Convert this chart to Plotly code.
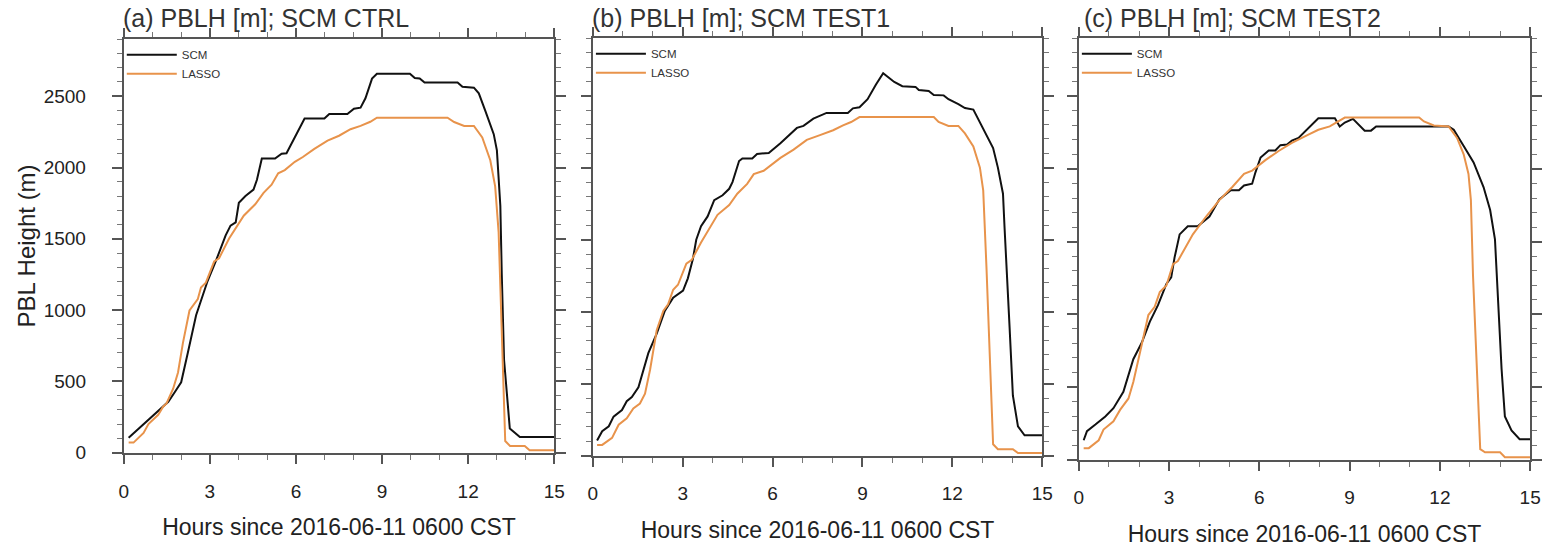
import plotly.graph_objects as go

W, H = 1557, 549

# ---------------- data (hours since 2016-06-11 0600 CST, PBLH in m) ----------------
ctrl_scm_t = [0.17, 1.55, 1.78, 2.0, 2.23, 2.52, 2.92, 3.21, 3.55, 3.72, 3.9, 4.01, 4.24, 4.52, 4.64, 4.81, 5.27, 5.5,
              5.67, 5.84, 6.3, 6.99, 7.16, 7.79, 8.02, 8.25, 8.42, 8.65, 8.82, 9.97, 10.14, 10.31, 10.48, 11.63, 11.8,
              12.2, 12.37, 12.6, 12.89, 13.0, 13.12, 13.17, 13.25, 13.45, 13.8, 15.0]
ctrl_scm_v = [105, 357, 426, 494, 700, 964, 1204, 1345, 1525, 1593, 1616, 1753, 1800, 1845, 1914, 2063, 2063, 2097,
              2100, 2166, 2344, 2344, 2376, 2376, 2413, 2420, 2486, 2624, 2658, 2658, 2628, 2624, 2596, 2596, 2566,
              2560, 2520, 2395, 2234, 2120, 1731, 1250, 650, 170, 110, 110]
ctrl_lasso_t = [0.17, 0.34, 0.69, 0.86, 1.2, 1.37, 1.49, 1.72, 1.89, 2.06, 2.29, 2.58, 2.69, 2.86, 3.15, 3.32, 3.67,
                4.18, 4.58, 4.87, 5.15, 5.38, 5.61, 5.96, 6.24, 6.64, 7.1, 7.5, 7.9, 8.25, 8.59, 8.82, 11.28, 11.51,
                11.86, 12.2, 12.49, 12.77, 12.94, 13.06, 13.29, 13.46, 13.97, 14.14, 15.0]
ctrl_lasso_v = [71, 71, 139, 201, 266, 323, 346, 449, 563, 769, 998, 1078, 1159, 1193, 1341, 1364, 1502,
                1662, 1742, 1822, 1880, 1960, 1982, 2040, 2074, 2131, 2189, 2223, 2269, 2292, 2321, 2349, 2349, 2319,
                2292, 2292, 2211, 2051, 1868, 1547, 82, 48, 48, 18, 18]

test1_scm_t = [0.14, 0.31, 0.53, 0.69, 0.97, 1.13, 1.3, 1.52, 1.85, 2.13, 2.4, 2.68, 3.01, 3.17, 3.34, 3.45, 3.61,
               3.83, 4.05, 4.33, 4.55, 4.66, 4.88, 4.99, 5.32, 5.48, 5.87, 6.26, 6.81, 7.03, 7.36, 7.8, 8.51, 8.68,
               8.9, 9.17, 9.45, 9.69, 10.06, 10.33, 10.77, 10.88, 11.21, 11.38, 11.71, 11.87, 12.2, 12.42, 12.7,
               12.97, 13.36, 13.52, 13.69, 13.74, 13.83, 13.91, 14.02, 14.19, 14.41, 15.0]
test1_scm_v = [106, 170, 204, 271, 317, 378, 407, 475, 712, 848, 1006, 1097, 1147, 1232, 1368, 1500, 1594,
               1662, 1775, 1809, 1854, 1900, 2047, 2065, 2065, 2096, 2103, 2171, 2277, 2291, 2341, 2381, 2381, 2413,
               2420, 2476, 2578, 2657, 2596, 2567, 2562, 2540, 2533, 2506, 2503, 2476, 2442, 2415, 2404,
               2295, 2137, 2001, 1820, 1594, 1255, 893, 418, 204, 142, 142]
test1_lasso_t = [0.14, 0.31, 0.64, 0.86, 1.13, 1.35, 1.57, 1.74, 1.91, 2.13, 2.35, 2.51, 2.68, 2.84, 3.12, 3.3, 3.61,
                 4.16, 4.55, 4.82, 5.15, 5.37, 5.7, 6.26, 6.7, 7.14, 7.58, 8.02, 8.35, 8.62, 8.9, 11.38, 11.54, 11.87,
                 12.2, 12.42, 12.7, 12.92, 13.03, 13.08, 13.14, 13.36, 13.52, 14.02, 14.19, 15.0]
test1_lasso_v = [75, 75, 124, 215, 260, 328, 362, 430, 599, 871, 1006, 1052, 1153, 1187, 1334, 1360, 1481,
                 1673, 1741, 1820, 1888, 1956, 1979, 2069, 2126, 2194, 2227, 2261, 2295, 2318, 2352, 2352, 2318, 2291,
                 2291, 2239, 2148, 2001, 1843, 1549, 1300, 79, 45, 45, 18, 18]

test2_scm_t = [0.16, 0.27, 0.55, 0.88, 1.15, 1.48, 1.81, 2.09, 2.36, 2.63, 2.91, 3.07, 3.18, 3.29, 3.35, 3.62, 3.95,
               4.34, 4.67, 5.05, 5.32, 5.49, 5.76, 5.87, 6.04, 6.31, 6.53, 6.7, 6.92, 7.08, 7.3, 7.96, 8.51, 8.67,
               8.84, 9.11, 9.22, 9.5, 9.71, 9.88, 12.29, 12.46, 12.79, 13.12, 13.45, 13.67, 13.83, 13.89, 13.94,
               14.05, 14.16, 14.38, 14.65, 15.0]
test2_scm_v = [133, 196, 241, 297, 354, 466, 691, 804, 950, 1063, 1209, 1254, 1390, 1500, 1550, 1606, 1606,
               1673, 1791, 1854, 1854, 1887, 1899, 1977, 2079, 2128, 2128, 2164, 2169, 2196, 2214, 2349, 2349, 2293,
               2320, 2345, 2322, 2264, 2264, 2293, 2293, 2270, 2158, 2045, 1876, 1718, 1516, 1268, 1029,
               624, 297, 200, 140, 140]
test2_lasso_t = [0.16, 0.33, 0.66, 0.82, 1.15, 1.37, 1.65, 1.81, 2.03, 2.31, 2.52, 2.69, 2.91, 3.13, 3.29, 3.79,
                 4.23, 4.67, 5.1, 5.49, 5.76, 6.2, 6.64, 7.08, 7.63, 7.96, 8.34, 8.62, 8.84, 11.31, 11.47, 11.8,
                 12.29, 12.57, 12.79, 12.95, 13.03, 13.1, 13.34, 13.5, 14.0, 14.16, 15.0]
test2_lasso_v = [79, 79, 133, 207, 264, 342, 421, 534, 736, 995, 1052, 1153, 1198, 1345, 1367, 1550,
                 1673, 1786, 1876, 1966, 1989, 2061, 2124, 2180, 2236, 2270, 2293, 2327, 2354, 2354, 2327, 2300,
                 2293, 2214, 2101, 1966, 1786, 1268, 72, 50, 50, 16, 16]

panel_titles = ["(a) PBLH [m]; SCM CTRL", "(b) PBLH [m]; SCM TEST1", "(c) PBLH [m]; SCM TEST2"]
series_names = ["SCM", "LASSO"]
x_ticks = [0, 3, 6, 9, 12, 15]
y_ticks = [0, 500, 1000, 1500, 2000, 2500]
x_title = "Hours since 2016-06-11 0600 CST"
y_title = "PBL Height (m)"

# ---------------- layout helpers ----------------
SCM_COLOR = "#111111"
LASSO_COLOR = "#E8934B"
FONT = "Liberation Sans, Arial, Helvetica, sans-serif"

# pixel boxes: (left, right, top, bottom)
boxes = [(120, 555, 40, 462), (594, 1048, 39, 465), (1085, 1541, 39, 469)]
title_dx = [-3, -3, 3]

data = [
    (ctrl_scm_t, ctrl_scm_v, ctrl_lasso_t, ctrl_lasso_v),
    (test1_scm_t, test1_scm_v, test1_lasso_t, test1_lasso_v),
    (test2_scm_t, test2_scm_v, test2_lasso_t, test2_lasso_v),
]

fig = go.Figure()
layout = dict(
    width=W, height=H,
    margin=dict(l=0, r=0, t=0, b=0),
    paper_bgcolor="white", plot_bgcolor="white",
    font=dict(family=FONT, color="#222222"),
    annotations=[],
)

for i, (box, (st, sv, lt, lv)) in enumerate(zip(boxes, data)):
    l, r, t, b = box
    sfx = "" if i == 0 else str(i + 1)
    xa = "x" + sfx
    ya = "y" + sfx
    leg = "legend" + sfx
    fig.add_trace(go.Scatter(x=st, y=sv, mode="lines", name=series_names[0],
                             line=dict(color=SCM_COLOR, width=2), xaxis=xa, yaxis=ya, legend=leg))
    fig.add_trace(go.Scatter(x=lt, y=lv, mode="lines", name=series_names[1],
                             line=dict(color=LASSO_COLOR, width=2), xaxis=xa, yaxis=ya, legend=leg))

    common = dict(
        showline=True, linecolor="#555555", linewidth=2, mirror="ticks",
        ticks="outside", tickcolor="#555555", tickwidth=1.5,
        showgrid=False, zeroline=False, fixedrange=True,
        tickfont=dict(size=19, color="#222222"),
    )
    layout["xaxis" + sfx] = dict(
        common,
        domain=[l / W, r / W], anchor=ya, range=[0, 15],
        tickvals=x_ticks, ticktext=[str(v) for v in x_ticks], ticklen=9,
        ticklabelstandoff=11,
        minor=dict(dtick=1, ticks="outside", ticklen=5, tickcolor="#777777", tickwidth=1.2),
        title=dict(text=x_title, font=dict(size=23, color="#222222"), standoff=18),
    )
    ydict = dict(
        common,
        domain=[1 - b / H, 1 - t / H], anchor=xa, range=[0, 2900],
        tickvals=y_ticks, ticktext=[str(v) for v in y_ticks], ticklen=10,
        minor=dict(dtick=100, ticks="outside", ticklen=5, tickcolor="#777777", tickwidth=1.2),
        showticklabels=(i == 0),
        ticklabelstandoff=22,
    )
    if i == 0:
        ydict["title"] = dict(text=y_title, font=dict(size=24, color="#222222"), standoff=1)
    layout["yaxis" + sfx] = ydict

    layout[leg] = dict(
        x=(l - 2) / W, y=1 - (t + 1) / H, xanchor="left", yanchor="top",
        bgcolor="rgba(0,0,0,0)", borderwidth=0,
        font=dict(size=11.5, color="#333333"), tracegroupgap=0,
        itemwidth=50,
    )
    layout["annotations"].append(dict(
        text=panel_titles[i], xref="paper", yref="paper",
        x=(l + title_dx[i]) / W, y=1 - 18 / H, xanchor="left", yanchor="middle",
        showarrow=False, font=dict(size=25, color="#333333"),
    ))

fig.update_layout(**layout)
fig.write_html("out.html")
